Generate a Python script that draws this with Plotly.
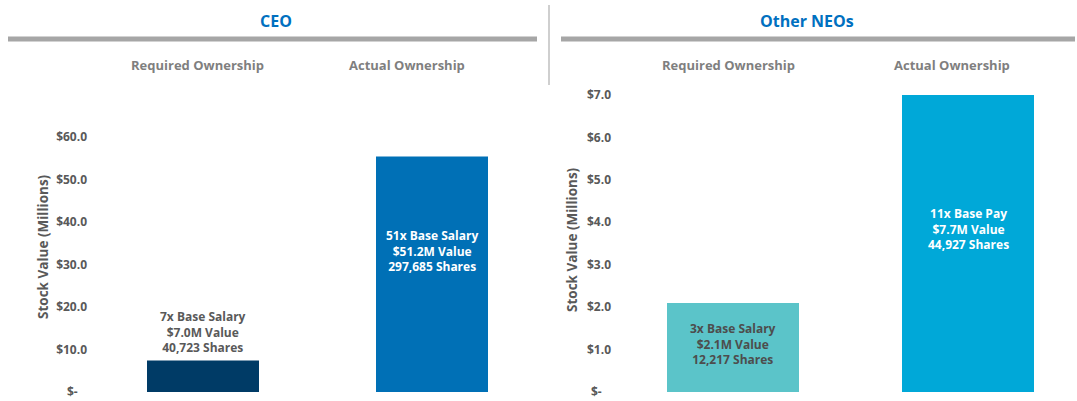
import plotly.graph_objects as go

W, H = 1077, 401

categories = ["Required Ownership", "Actual Ownership"]
ceo_values = [7.4, 55.4]          # bar heights as drawn ($M)
neo_values = [2.1, 7.0]
ceo_labels = ["7x Base Salary<br>$7.0M Value<br>40,723 Shares",
              "51x Base Salary<br>$51.2M Value<br>297,685 Shares"]
neo_labels = ["3x Base Salary<br>$2.1M Value<br>12,217 Shares",
              "11x Base Pay<br>$7.7M Value<br>44,927 Shares"]
ceo_ticks = [0, 10, 20, 30, 40, 50, 60]
ceo_ticktext = ["$-\u00a0\u00a0\u00a0", "$10.0", "$20.0", "$30.0", "$40.0", "$50.0", "$60.0"]
neo_ticks = [0, 1, 2, 3, 4, 5, 6, 7]
neo_ticktext = ["$-\u00a0\u00a0\u00a0", "$1.0", "$2.0", "$3.0", "$4.0", "$5.0", "$6.0", "$7.0"]
panel_titles = ["CEO", "Other NEOs"]

ceo_colors = ["#003b66", "#0070b6"]
neo_colors = ["#5bc4c9", "#00a8d8"]

FONT = "Open Sans"
GRAY = "#595959"


def px(x):
    return x / W


def py(y):
    return 1 - y / H


def xrange_for(d0, d1, c0, c1):
    step = c1 - c0
    return [-(c0 - d0) / step, 1 + (d1 - c1) / step]


fig = go.Figure()
fig.add_trace(go.Bar(x=categories, y=ceo_values, marker=dict(color=ceo_colors, line_width=0),
                     width=112 / 229, xaxis="x", yaxis="y", hoverinfo="skip"))
fig.add_trace(go.Bar(x=categories, y=neo_values, marker=dict(color=neo_colors, line_width=0),
                     width=132 / 235, xaxis="x2", yaxis="y2", hoverinfo="skip"))

base = 392
ceo_top, neo_top = 100, 90
ceo_unit = 4.25
neo_unit = 42.43
ceo_d = (88, 545)
neo_d = (612, 1077)

axis_common = dict(showgrid=False, zeroline=False, showline=False, ticks="", automargin=False,
                   tickfont=dict(family=FONT, size=12, color=GRAY, weight="bold"))
xaxis_common = dict(showticklabels=False, showgrid=False, zeroline=False, showline=False,
                    automargin=False)
fig.update_layout(
    width=W, height=H,
    margin=dict(l=0, r=0, t=0, b=0, pad=0),
    paper_bgcolor="white", plot_bgcolor="white",
    showlegend=False,
    xaxis=dict(domain=[px(ceo_d[0]), px(ceo_d[1])], range=xrange_for(*ceo_d, 203, 432),
               anchor="y", **xaxis_common),
    yaxis=dict(domain=[py(base), py(ceo_top)], range=[0, (base - ceo_top) / ceo_unit],
               tickvals=ceo_ticks, ticktext=ceo_ticktext, anchor="x", **axis_common),
    xaxis2=dict(domain=[px(neo_d[0]), px(neo_d[1])], range=xrange_for(*neo_d, 733, 968),
                anchor="y2", **xaxis_common),
    yaxis2=dict(domain=[py(base), py(neo_top)], range=[0, (base - neo_top) / neo_unit],
                tickvals=neo_ticks, ticktext=neo_ticktext, anchor="x2", **axis_common),
)

ann = []


def paper_text(text, x, y, size, color, angle=0):
    ann.append(dict(text=text, x=px(x), y=py(y), xref="paper", yref="paper", showarrow=False,
                    xanchor="center", yanchor="middle", textangle=angle,
                    font=dict(family=FONT, size=size, color=color, weight="bold")))


for t, x in zip(panel_titles, [276, 807]):
    paper_text(t, x, 21, 16, "#0070c0")
for c, x in zip(categories, [197, 407]):
    paper_text(c, x, 65, 13, "#7f7f7f")
for c, x in zip(categories, [728, 952]):
    paper_text(c, x, 65, 13, "#7f7f7f")
paper_text("Stock Value (Millions)", 43, 247, 13.5, GRAY, -90)
paper_text("Stock Value (Millions)", 572, 240, 13.5, GRAY, -90)

# bar labels
ceo_label_y = [ceo_values[0], ceo_values[1] * 0.60]
ceo_label_anchor = ["bottom", "middle"]
ceo_label_color = [GRAY, "white"]
for i in range(2):
    ann.append(dict(text=ceo_labels[i], x=categories[i], y=ceo_label_y[i], xref="x", yref="y",
                    xanchor="center", yanchor=ceo_label_anchor[i], yshift=3 if i == 0 else 0,
                    showarrow=False,
                    font=dict(family=FONT, size=12, color=ceo_label_color[i], weight="bold")))
neo_label_y = [neo_values[0] * 0.54, neo_values[1] * 0.55]
neo_label_color = ["#4d4d4d", "white"]
for i in range(2):
    ann.append(dict(text=neo_labels[i], x=categories[i], y=neo_label_y[i], xref="x2", yref="y2",
                    xanchor="center", yanchor="middle", showarrow=False,
                    font=dict(family=FONT, size=12, color=neo_label_color[i], weight="bold")))
fig.update_layout(annotations=ann)

shapes = [
    dict(type="line", xref="paper", yref="paper", x0=px(8), x1=px(537), y0=py(39), y1=py(39),
         line=dict(color="#a6a6a6", width=5)),
    dict(type="line", xref="paper", yref="paper", x0=px(561), x1=px(1075), y0=py(39), y1=py(39),
         line=dict(color="#a6a6a6", width=5)),
    dict(type="line", xref="paper", yref="paper", x0=px(549), x1=px(549), y0=py(5), y1=py(85),
         line=dict(color="#bfbfbf", width=1.5)),
]
fig.update_layout(shapes=shapes)

fig.write_html("out.html", config={"displayModeBar": False},
               post_script="document.body.style.margin='0';")
